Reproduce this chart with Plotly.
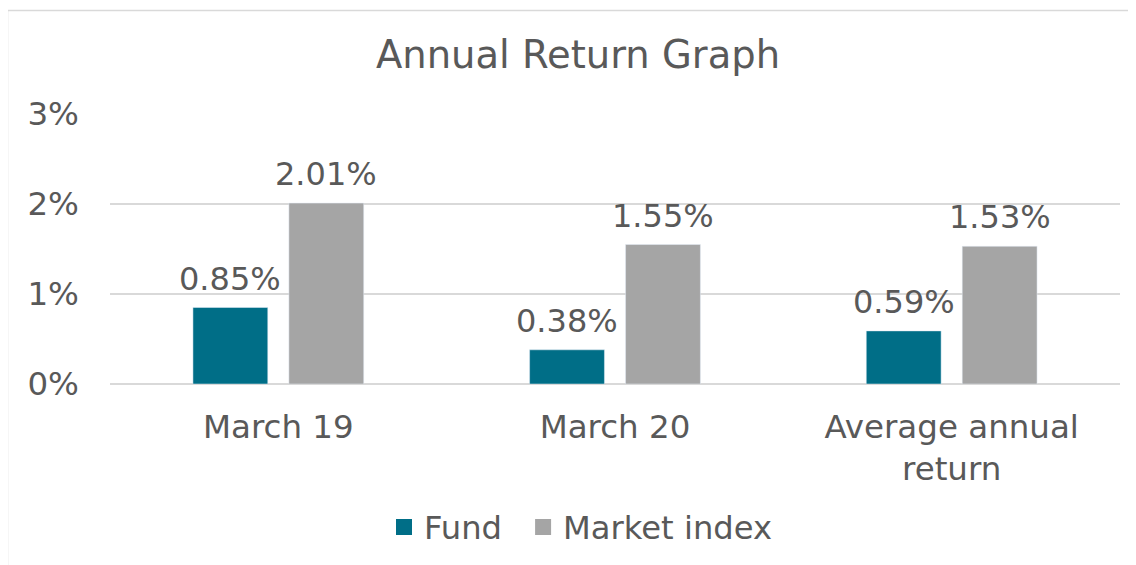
import plotly.graph_objects as go

categories = ["March 19", "March 20", "Average annual<br>return"]
fund = [0.85, 0.38, 0.59]
market = [2.01, 1.55, 1.53]
series_names = ["Fund", "Market index"]
series_colors = ["#006E87", "#A5A5A5"]
y_ticks = [0, 1, 2, 3]
y_tick_labels = ["0%", "1%", "2%", "3%"]

FONT = "DejaVu Sans, Verdana, sans-serif"
TEXT = "#595959"
GRID = "#D9D9D9"

# the page body has an 8px margin, so the figure is shifted by it
OFF = 8
W, H = 1136 - OFF, 565 - OFF
L, R, T, B = 110 - OFF, 16, 114 - OFF, 565 - 384
pw, ph = W - L - R, H - T - B


def px(x):
    return (x - OFF - L) / pw


def py(y):
    return (H - B - (y - OFF)) / ph


fig = go.Figure()
for name, vals, color in zip(series_names, [fund, market], series_colors):
    fig.add_trace(go.Bar(
        name=name, x=categories, y=vals, marker_color=color,
        showlegend=False, hoverinfo="x+y",
    ))
# legend entries with square markers (en space widens the gap between entries)
for i, (name, color) in enumerate(zip(series_names, series_colors)):
    fig.add_trace(go.Scatter(
        name=name + ("\u2002" if i == 0 else ""), x=[None], y=[None], mode="markers",
        marker=dict(symbol="square", size=18, color=color), showlegend=True,
    ))

# data labels above each bar (grouped offset: half a bar slot)
annotations = []
for vals, shift in [(fund, -48), (market, 48)]:
    for c, v in zip(categories, vals):
        annotations.append(dict(
            x=c, y=v, xref="x", yref="y", text=f"{v:.2f}%", showarrow=False,
            xanchor="center", yanchor="bottom", xshift=shift, yshift=8,
            font=dict(size=32, color=TEXT, family=FONT),
        ))

fig.update_layout(
    width=W, height=H,
    margin=dict(l=L, r=R, t=T, b=B),
    paper_bgcolor="white", plot_bgcolor="white",
    font=dict(family=FONT, color=TEXT, size=32),
    title=dict(text="Annual Return Graph", x=(578 - OFF) / W, xref="container", xanchor="center",
               y=1 - (55 - OFF) / H, yref="container", yanchor="middle",
               font=dict(size=38.5, color=TEXT, family=FONT)),
    barmode="group", bargap=0.43, bargroupgap=0.22,
    showlegend=True,
    legend=dict(orientation="h", x=(581 - OFF) / W, xref="container", xanchor="center",
                y=1 - (527 - OFF) / H, yref="container", yanchor="middle",
                font=dict(size=32.2, color=TEXT, family=FONT), itemsizing="trace",
                itemwidth=30),
    xaxis=dict(showgrid=False, showline=False, ticks="", ticklabelstandoff=20,
               tickfont=dict(size=32.5, color=TEXT)),
    yaxis=dict(range=[0, 3], tickvals=y_ticks, ticktext=y_tick_labels, showgrid=True,
               gridcolor=GRID, gridwidth=2, zeroline=True, zerolinecolor=GRID, zerolinewidth=2,
               showline=False, ticks="", ticklabelstandoff=30,
               tickfont=dict(size=32.5, color=TEXT)),
    annotations=annotations,
    shapes=[
        dict(type="rect", xref="paper", yref="paper", x0=px(7.5), x1=px(1150), y0=py(580), y1=py(10.5),
             line=dict(color=GRID, width=1.5), fillcolor="rgba(0,0,0,0)", layer="below"),
    ],
)

fig.write_html("out.html")
